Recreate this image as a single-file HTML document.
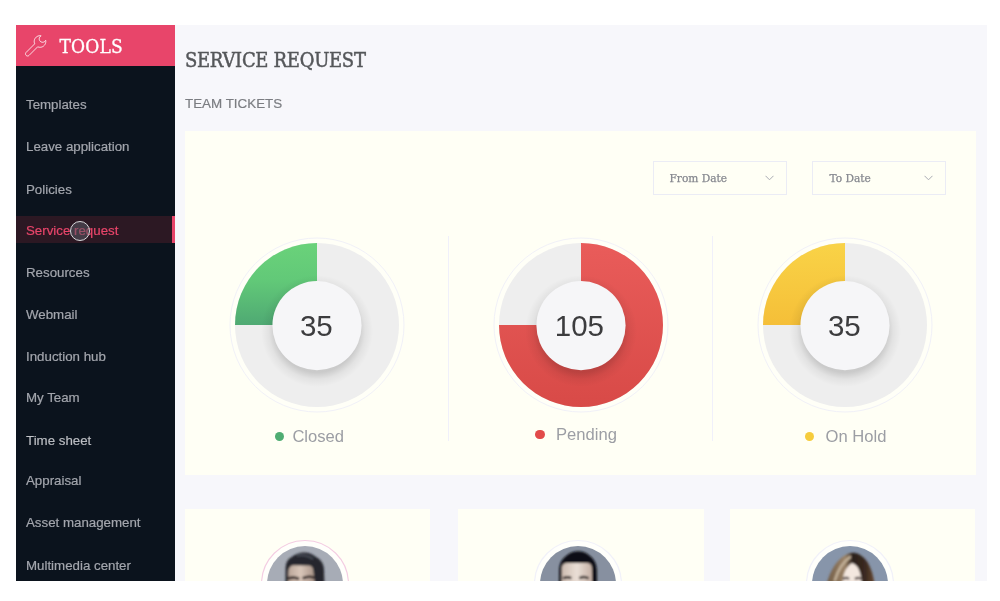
<!DOCTYPE html>
<html lang="en">
<head>
<meta charset="utf-8">
<title>Service Request</title>
<style>
*{box-sizing:border-box;margin:0;padding:0}
html,body{width:1000px;height:601px;background:#fff;overflow:hidden}
body{font-family:"Liberation Sans",sans-serif;position:relative}
#app{position:absolute;left:16px;top:25px;width:971px;height:556px;background:#f7f7fb;overflow:hidden}
#side{position:absolute;left:0;top:0;width:159.4px;height:556px;background:#0b131d}
#brand{position:absolute;left:0;top:0;width:159.4px;height:41px;background:#e8456a;color:#fff}
#brand span{position:absolute;left:43.5px;top:8.5px;font-family:"DejaVu Serif Condensed","DejaVu Serif","Liberation Serif",serif;font-stretch:condensed;font-size:19px;line-height:24px;letter-spacing:.15px;-webkit-text-stroke:.3px #fff;white-space:nowrap}
#brand svg{position:absolute;left:0;top:0}
#nav{list-style:none;position:absolute;left:0;top:0;width:159px}
#nav li{position:absolute;left:0;width:159px;height:26px;line-height:28px;padding-left:10px;font-size:13.3px;color:#a3a6ad;-webkit-text-stroke:.2px #a3a6ad;white-space:nowrap}
#nav li.on{background:#2c1823;color:#e8456a;-webkit-text-stroke:.2px #e8456a;border-right:3.6px solid #e8456a;height:26.8px;line-height:30.4px}
#cursor{position:absolute;left:54px;top:196px;width:20px;height:20px;border-radius:50%;border:1.5px solid #d9d9dc;background:rgba(90,90,100,.55)}
#main{position:absolute;left:159px;top:0;width:812px;height:556px}
h1{position:absolute;left:10px;top:22.5px;font-family:"DejaVu Serif Condensed","DejaVu Serif","Liberation Serif",serif;font-stretch:condensed;font-weight:normal;font-size:20px;line-height:24px;letter-spacing:-.3px;-webkit-text-stroke:.45px #55575a;color:#55575a;white-space:nowrap}
h2{position:absolute;left:10px;top:71px;font-weight:normal;font-size:13.4px;line-height:16px;color:#7b7d82;-webkit-text-stroke:.2px #7b7d82;white-space:nowrap}
.card{position:absolute;background:#fffff5}
#stats{left:10px;top:106px;width:791px;height:344px}
.sel{position:absolute;top:30px;width:134px;height:34px;border:1px solid #ebecf5;font-family:"DejaVu Serif Condensed","DejaVu Serif","Liberation Serif",serif;font-stretch:condensed;font-size:11.8px;line-height:32px;color:#86888f;-webkit-text-stroke:.25px #86888f;padding-left:15.5px;white-space:nowrap}
.sel svg{position:absolute;right:12px;top:13px}
.div{position:absolute;top:105px;width:1.5px;height:205px;background:#f0f0fa}
.donut{position:absolute;top:106px;width:176px;height:176px}
.num{position:absolute;left:0;width:176px;text-align:center;top:70.5px;font-size:29.5px;line-height:36px;color:#3c3c3e}
.leg{position:absolute;font-size:16.6px;line-height:18px;color:#9c9ea4;white-space:nowrap}
.leg i{position:absolute;top:4.7px;width:9.4px;height:9.4px;border-radius:50%}
.p{top:484px;height:80px}
.av{position:absolute;top:25px;width:100px;height:100px}
</style>
</head>
<body>
<div id="app">
  <div id="side">
    <ul id="nav">
      <li style="top:66px">Templates</li>
      <li style="top:108px">Leave application</li>
      <li style="top:150.5px">Policies</li>
      <li class="on" style="top:191.4px">Service request</li>
      <li style="top:234.4px">Resources</li>
      <li style="top:276.4px">Webmail</li>
      <li style="top:318.4px">Induction hub</li>
      <li style="top:359.4px">My Team</li>
      <li style="top:402px;color:#c3c5c9">Time sheet</li>
      <li style="top:442.4px">Appraisal</li>
      <li style="top:484px">Asset management</li>
      <li style="top:527px">Multimedia center</li>
    </ul>
    <div id="cursor"></div>
    <div id="brand">
      <svg width="60" height="40" viewBox="0 0 60 40" fill="none" stroke="#fff" stroke-opacity=".8" stroke-width="1" stroke-linejoin="round"><path d="M10.12 27.42 L18.69 18.84 L18.36 17.84 L18.21 16.79 L18.25 15.74 L18.48 14.71 L18.90 13.74 L19.48 12.86 L20.22 12.10 L21.07 11.49 L22.03 11.04 L23.05 10.78 L24.10 10.70 L25.15 10.82 L24.26 11.43 L23.61 12.29 L23.27 13.31 L23.25 14.39 L23.58 15.41 L24.21 16.29 L25.09 16.92 L26.11 17.25 L27.19 17.23 L28.21 16.89 L29.07 16.24 L29.68 15.35 L29.80 16.40 L29.72 17.45 L29.46 18.47 L29.01 19.43 L28.40 20.28 L27.64 21.02 L26.76 21.60 L25.79 22.02 L24.76 22.25 L23.71 22.29 L22.66 22.14 L21.66 21.81 L13.08 30.38 L12.65 30.72 L12.14 30.93 L11.60 31.00 L11.06 30.93 L10.55 30.72 L10.12 30.38 L9.78 29.95 L9.57 29.44 L9.50 28.90 L9.57 28.36 L9.78 27.85 Z"/></svg>
      <span>TOOLS</span>
    </div>
  </div>
  <div id="main">
    <h1>SERVICE REQUEST</h1>
    <h2>TEAM TICKETS</h2>
    <div class="card" id="stats">
      <div class="sel" style="left:468px">From Date<svg width="9" height="6" viewBox="0 0 9 6" fill="none" stroke="#a9abb3" stroke-width="1"><path d="M0.5 0.8 L4.5 4.8 L8.5 0.8"/></svg></div>
      <div class="sel" style="left:627.3px;padding-left:16.3px">To Date<svg width="9" height="6" viewBox="0 0 9 6" fill="none" stroke="#a9abb3" stroke-width="1"><path d="M0.5 0.8 L4.5 4.8 L8.5 0.8"/></svg></div>
      <div class="div" style="left:262.8px"></div>
      <div class="div" style="left:526.6px"></div>

      <div class="donut" style="left:44px">
        <svg width="176" height="176" viewBox="-88 -88 176 176">
          <defs>
            <linearGradient id="gg" x1="0" y1="0" x2="0" y2="1"><stop offset="0" stop-color="#6ad27a"/><stop offset="0.45" stop-color="#62c978"/><stop offset="1" stop-color="#4fa973"/></linearGradient>
            <radialGradient id="sh" cx="0" cy="6" r="56" gradientUnits="userSpaceOnUse"><stop offset="0.74" stop-color="#000" stop-opacity=".15"/><stop offset="0.86" stop-color="#000" stop-opacity=".05"/><stop offset="1" stop-color="#000" stop-opacity="0"/></radialGradient>
          </defs>
          <circle r="87" fill="#fffff7" stroke="#f1f1f8" stroke-width="1"/>
          <circle r="82" fill="#eeeeee"/>
          <path d="M0 0 L-82 0 A82 82 0 0 1 0 -82 Z" fill="url(#gg)"/>
          <circle cy="6" r="56" fill="url(#sh)"/>
          <circle cy="0.6" r="44.6" fill="#f6f6f8"/>
        </svg>
        <div class="num" style="left:-.7px">35</div>
      </div>
      <div class="donut" style="left:307.6px">
        <svg width="176" height="176" viewBox="-88 -88 176 176">
          <defs>
            <linearGradient id="rg" x1="0" y1="0" x2="0" y2="1"><stop offset="0" stop-color="#e95c5a"/><stop offset="1" stop-color="#d84a47"/></linearGradient>
          </defs>
          <circle r="87" fill="#fffff7" stroke="#f1f1f8" stroke-width="1"/>
          <circle r="82" fill="#eeeeee"/>
          <path d="M0 0 L0 -82 A82 82 0 1 1 -82 0 Z" fill="url(#rg)"/>
          <circle cy="6" r="56" fill="url(#sh)"/>
          <circle cy="0.6" r="44.6" fill="#f6f6f8"/>
        </svg>
        <div class="num" style="left:-1.2px">105</div>
      </div>
      <div class="donut" style="left:572px">
        <svg width="176" height="176" viewBox="-88 -88 176 176">
          <defs>
            <linearGradient id="yg" x1="0" y1="0" x2="0" y2="1"><stop offset="0" stop-color="#f9d347"/><stop offset="1" stop-color="#f5bf38"/></linearGradient>
          </defs>
          <circle r="87" fill="#fffff7" stroke="#f1f1f8" stroke-width="1"/>
          <circle r="82" fill="#eeeeee"/>
          <path d="M0 0 L-82 0 A82 82 0 0 1 0 -82 Z" fill="url(#yg)"/>
          <circle cy="6" r="56" fill="url(#sh)"/>
          <circle cy="0.6" r="44.6" fill="#f6f6f8"/>
        </svg>
        <div class="num" style="left:-.7px">35</div>
      </div>

      <div class="leg" style="left:107.4px;top:296.5px"><i style="left:-17.9px;top:4.2px;background:#4fad72"></i>Closed</div>
      <div class="leg" style="left:371px;top:295.2px"><i style="left:-20.7px;top:3.8px;background:#e24b4a"></i>Pending</div>
      <div class="leg" style="left:640.5px;top:296.5px"><i style="left:-20.8px;top:4.2px;background:#f6cc3c"></i>On Hold</div>
    </div>

    <div class="card p" style="left:10px;width:245px">
      <svg class="av" style="left:69.6px" viewBox="-50 -50 100 100">
        <defs><clipPath id="c1"><circle r="38"/></clipPath><filter id="bl" x="-20%" y="-20%" width="140%" height="140%"><feGaussianBlur stdDeviation="0.8"/></filter>
        <linearGradient id="sk1" x1="0" y1="0" x2="1" y2="0"><stop offset="0" stop-color="#b9a598"/><stop offset="0.45" stop-color="#d9c6b9"/><stop offset="1" stop-color="#a48f84"/></linearGradient></defs>
        <circle r="43.5" fill="#fffffb" stroke="#f4cde2" stroke-width="1.1"/>
        <circle r="38" fill="#a7acb6"/>
        <g clip-path="url(#c1)"><g filter="url(#bl)">
          <path d="M-19.6 4 L-19.4 -14 C-19.5 -21 -17.5 -24.5 -14 -26.5 C-10 -30 -5 -31.6 -1 -31.6 C4 -31.6 8 -29.6 11 -27 C16 -24.5 19 -20 19 -14 L19.6 4 Z" fill="#25282f"/>
          <path d="M-8 -28 C-3 -30 4 -28.5 8 -25" stroke="#474b54" stroke-width="2" fill="none"/>
          <path d="M-17 4 L-16.6 -13 C-16 -17 -14 -18.8 -11 -18.8 L4 -18.4 C7 -18.2 8.2 -16 8.4 -13 L10.4 4 Z" fill="url(#sk1)"/>
          <path d="M-17 -5.4 C-13 -6.8 -9 -6.6 -6 -5 M-2.4 -5.6 C1 -7.4 6 -7.6 9.4 -6.2" stroke="#2e2422" stroke-width="2.6" fill="none"/>
        </g></g>
      </svg>
    </div>
    <div class="card p" style="left:283px;width:246px">
      <svg class="av" style="left:70.1px" viewBox="-50 -50 100 100">
        <defs><clipPath id="c2"><circle r="38"/></clipPath>
        <linearGradient id="sk2" x1="0" y1="0" x2="1" y2="0"><stop offset="0" stop-color="#cdbbb0"/><stop offset="0.5" stop-color="#eadfd6"/><stop offset="1" stop-color="#c4afa4"/></linearGradient></defs>
        <circle r="43.5" fill="#fffffb" stroke="#f1f1f9" stroke-width="1.2"/>
        <circle r="38" fill="#8790a0"/>
        <g clip-path="url(#c2)"><g filter="url(#bl)">
          <path d="M-19 4 L-18.8 -14 C-18.6 -21 -16 -25 -12 -28 C-8 -31.5 -4 -32.8 0 -32.8 C5 -32.8 9 -31 12 -28 C16.5 -24.5 18.6 -20 18.8 -14 L19 4 Z" fill="#0e0f13"/>
          <path d="M-16.4 4 L-16.2 -16 C-16 -19.5 -14 -21 -11 -21 L9 -21 C12 -21 13.8 -19.5 13.9 -16 L14.2 4 Z" fill="url(#sk2)"/>
          <path d="M-15 -5.6 C-12 -7 -9 -7 -6.6 -5.8 M1.3 -5.8 C4 -7.2 8 -7.2 10.6 -5.6" stroke="#2c2422" stroke-width="2.4" fill="none"/>
        </g></g>
      </svg>
    </div>
    <div class="card p" style="left:555px;width:244.5px">
      <svg class="av" style="left:69.7px" viewBox="-50 -50 100 100">
        <defs><clipPath id="c3"><circle r="38"/></clipPath>
        <linearGradient id="hr3" x1="0" y1="0" x2="1" y2="0"><stop offset="0" stop-color="#6f5a45"/><stop offset="0.4" stop-color="#9c8468"/><stop offset="0.55" stop-color="#2a201c"/><stop offset="0.8" stop-color="#3a2a20"/><stop offset="1" stop-color="#6a4a32"/></linearGradient></defs>
        <circle r="43.5" fill="#fffffb" stroke="#f1f1f9" stroke-width="1.2"/>
        <circle r="38" fill="#8795aa"/>
        <g clip-path="url(#c3)"><g filter="url(#bl)">
          <path d="M-24.6 4 C-22 -6 -18 -17 -11 -24 C-6 -29 -1 -31.2 3 -31.2 C9 -31 14 -27 18 -21 C22 -14 24 -6 25 4 Z" fill="url(#hr3)"/>
          <path d="M-15 -4 C-12 -14 -7 -22 0 -27" stroke="#c4b29a" stroke-width="2.4" fill="none" stroke-linecap="round"/>
          <path d="M-7.6 4 C-8 -6 -6 -16 2 -21 C9 -19 11.6 -10 12 4 Z" fill="#f3e7df"/>
          <path d="M-7 -5 C-5 -6.4 -2.6 -6.4 -1 -5 M5 -5 C7 -6.4 9.4 -6.4 11 -5" stroke="#4a3c3c" stroke-width="2.2" fill="none"/>
        </g></g>
      </svg>
    </div>
  </div>
</div>
</body>
</html>
